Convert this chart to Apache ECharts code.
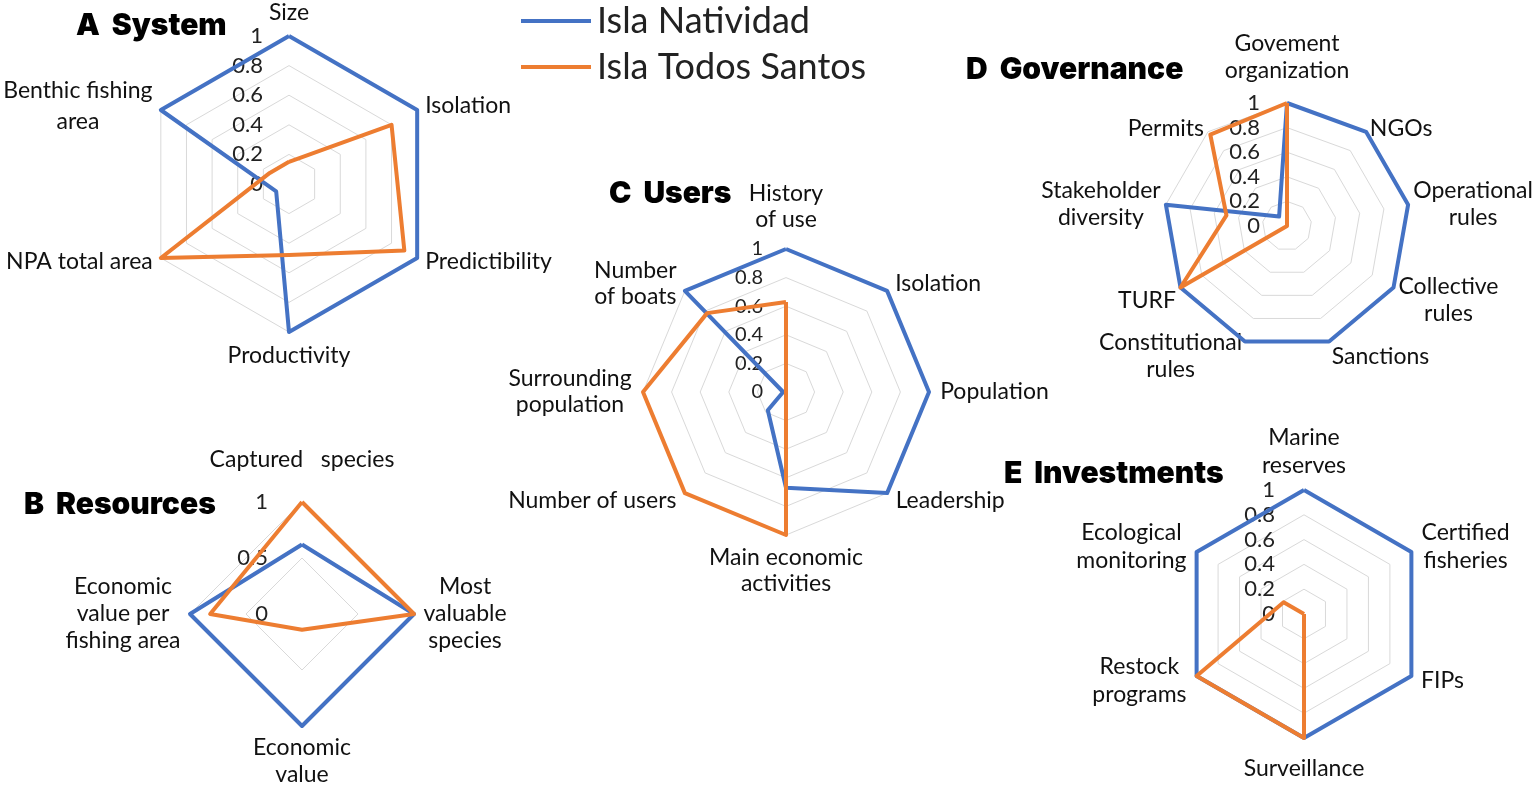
<!DOCTYPE html>
<html>
<head>
<meta charset="utf-8">
<script src="https://cdn.jsdelivr.net/npm/echarts@6/dist/echarts.min.js"></script>
<style>
html,body{margin:0;padding:0;background:#fff;}
#chart{width:1535px;height:786px;}
</style>
</head>
<body>
<div id="chart"></div>
<script>
// ---------- DATA (axes listed clockwise from the top) ----------
const seriesNames = ['Isla Natividad', 'Isla Todos Santos'];

const systemAxes = ['Size', 'Isolation', 'Predictibility', 'Productivity', 'NPA total area', 'Benthic fishing\narea'];
const systemNatividad = [1, 1, 1, 1, 0.1, 1];
const systemTodosSantos = [0.15, 0.8, 0.9, 0.48, 1, 0.15];

const resourcesAxes = ['Captured   species', 'Most\nvaluable\nspecies', 'Economic\nvalue', 'Economic\nvalue per\nfishing area'];
const resourcesNatividad = [0.62, 1, 1, 1];
const resourcesTodosSantos = [1, 1, 0.14, 0.82];

const usersAxes = ['History\nof use', 'Isolation', 'Population', 'Leadership', 'Main economic\nactivities', 'Number of users', 'Surrounding\npopulation', 'Number\nof boats'];
const usersNatividad = [1, 1, 1, 1, 0.67, 0.18, 0.02, 1];
const usersTodosSantos = [0.63, 0, 0, 0, 1, 1, 1, 0.78];

const governanceAxes = ['Govement\norganization', 'NGOs', 'Operational\nrules', 'Collective\nrules', 'Sanctions', 'Constitutional\nrules', 'TURF', 'Stakeholder\ndiversity', 'Permits'];
const governanceNatividad = [1, 1, 1, 1, 1, 1, 1, 1, 0.1];
const governanceTodosSantos = [1, 0, 0, 0, 0, 0, 1, 0.5, 0.97];

const investmentsAxes = ['Marine\nreserves', 'Certified\nfisheries', 'FIPs', 'Surveillance', 'Restock\nprograms', 'Ecological\nmonitoring'];
const investmentsNatividad = [1, 1, 1, 1, 1, 1];
const investmentsTodosSantos = [0, 0, 0, 1, 1, 0.19];

const panelTitles = ['A  System', 'B  Resources', 'C  Users', 'D  Governance', 'E  Investments'];

// ---------- STYLE / LAYOUT ----------
const BLUE = '#4472C4', ORANGE = '#ED7D31';
const LABEL_FONT = 'Lato, "Noto Sans", sans-serif';
const TITLE_FONT = 'Inter, "DejaVu Sans", sans-serif';
const NAME_SIZE = 23;

// ECharts places indicators counter-clockwise; reorder so they run clockwise.
function cw(arr) { return [arr[0]].concat(arr.slice(1).reverse()); }

const ctx = document.createElement('canvas').getContext('2d');
function textW(s, size) { ctx.font = size + 'px Lato'; return ctx.measureText(s).width; }

function makeRadar(axes, cfg) {
  const size = NAME_SIZE;
  const lineH = cfg.lineH;
  const rich = {
    gapTop: { height: cfg.topExtra || 0, lineHeight: cfg.topExtra || 0, fontSize: 1 },
    gapBot: { height: cfg.botExtra || 0, lineHeight: cfg.botExtra || 0, fontSize: 1 },
    gapDown: { height: cfg.downExtra || 0, lineHeight: cfg.downExtra || 0, fontSize: 1 }
  };
  const widthOf = {};
  const angleOf = {};
  const n = axes.length;
  axes.forEach((nm, i) => {
    const w = Math.ceil(Math.max.apply(null, nm.split('\n').map(l => textW(l, size)))) + 2;
    widthOf[nm] = w;
    angleOf[nm] = i * 360 / n;
    rich['w' + w] = { width: w, align: 'center', fontSize: size, fontFamily: LABEL_FONT, color: '#111', lineHeight: lineH };
  });
  const ind = cw(axes).map((nm, i) => {
    const o = { name: nm, min: 0, max: 1 };
    if (i === 0) o.axisLabel = { show: true };
    return o;
  });
  return {
    center: cfg.center,
    radius: cfg.radius,
    startAngle: 90,
    shape: 'polygon',
    splitNumber: cfg.split,
    indicator: ind,
    nameGap: cfg.gap,
    axisName: {
      color: '#111',
      fontSize: size,
      fontFamily: LABEL_FONT,
      lineHeight: lineH,
      formatter: function (name) {
        const w = widthOf[name];
        const a = angleOf[name];
        let s = name.split('\n').map(l => '{w' + w + '|' + l + '}').join('\n');
        if (a === 0 && cfg.topExtra) s = s + '\n{gapTop|}';
        else if (a === 180 && cfg.botExtra) s = '{gapBot|}\n' + s;
        else if (a > 100 && a < 260 && cfg.downExtra) s = '{gapDown|}\n' + s;
        return s;
      },
      rich: rich
    },
    axisLine: { show: false },
    axisTick: { show: false },
    axisLabel: { show: false, color: '#222', fontSize: cfg.tickSize, fontFamily: LABEL_FONT, margin: cfg.margin },
    splitLine: { lineStyle: { color: '#d9d9d9', width: 1 } },
    splitArea: { show: false }
  };
}

function makeSeries(idx, nat, tod) {
  return {
    type: 'radar',
    radarIndex: idx,
    symbol: 'none',
    silent: true,
    z: 1,
    data: [
      { name: seriesNames[0], value: cw(nat), lineStyle: { color: BLUE, width: 4 }, itemStyle: { color: BLUE } },
      { name: seriesNames[1], value: cw(tod), lineStyle: { color: ORANGE, width: 4 }, itemStyle: { color: ORANGE } }
    ]
  };
}

const titlePos = [[76, 11], [24, 490], [609, 179], [966, 55], [1004, 459]];

const option = {
  animation: false,
  backgroundColor: '#fff',
  title: panelTitles.map((t, i) => ({
    text: t, left: titlePos[i][0], top: titlePos[i][1], padding: 0,
    textStyle: { fontSize: 30, fontWeight: 900, fontFamily: TITLE_FONT, color: '#000' }
  })),
  legend: {
    data: seriesNames,
    orient: 'vertical',
    left: 516, top: -4,
    itemWidth: 70, itemHeight: 4,
    itemGap: 6,
    icon: 'rect',
    textStyle: { fontSize: 36, fontFamily: LABEL_FONT, color: '#222', padding: [0, 0, 0, 1], lineHeight: 40 }
  },
  radar: [
    makeRadar(systemAxes, { center: [289, 184], radius: 148, split: 5, gap: 8, lineH: 31, tickSize: 22, margin: 26 }),
    makeRadar(resourcesAxes, { center: [302, 614], radius: 112, split: 2, gap: 8, lineH: 27, topExtra: 18, tickSize: 22, margin: 34 }),
    makeRadar(usersAxes, { center: [786, 392], radius: 143, split: 5, gap: 10, lineH: 26, topExtra: 6, tickSize: 20, margin: 23 }),
    makeRadar(governanceAxes, { center: [1287, 226], radius: 123, split: 5, gap: 4, lineH: 27, topExtra: 8, downExtra: 22, tickSize: 22, margin: 27 }),
    makeRadar(investmentsAxes, { center: [1304, 614], radius: 124, split: 5, gap: 10, lineH: 28, botExtra: 7, tickSize: 22, margin: 29 })
  ],
  series: [
    makeSeries(0, systemNatividad, systemTodosSantos),
    makeSeries(1, resourcesNatividad, resourcesTodosSantos),
    makeSeries(2, usersNatividad, usersTodosSantos),
    makeSeries(3, governanceNatividad, governanceTodosSantos),
    makeSeries(4, investmentsNatividad, investmentsTodosSantos)
  ]
};

const chart = echarts.init(document.getElementById('chart'), null, { renderer: 'canvas' });
chart.setOption(option);
</script>
</body>
</html>
